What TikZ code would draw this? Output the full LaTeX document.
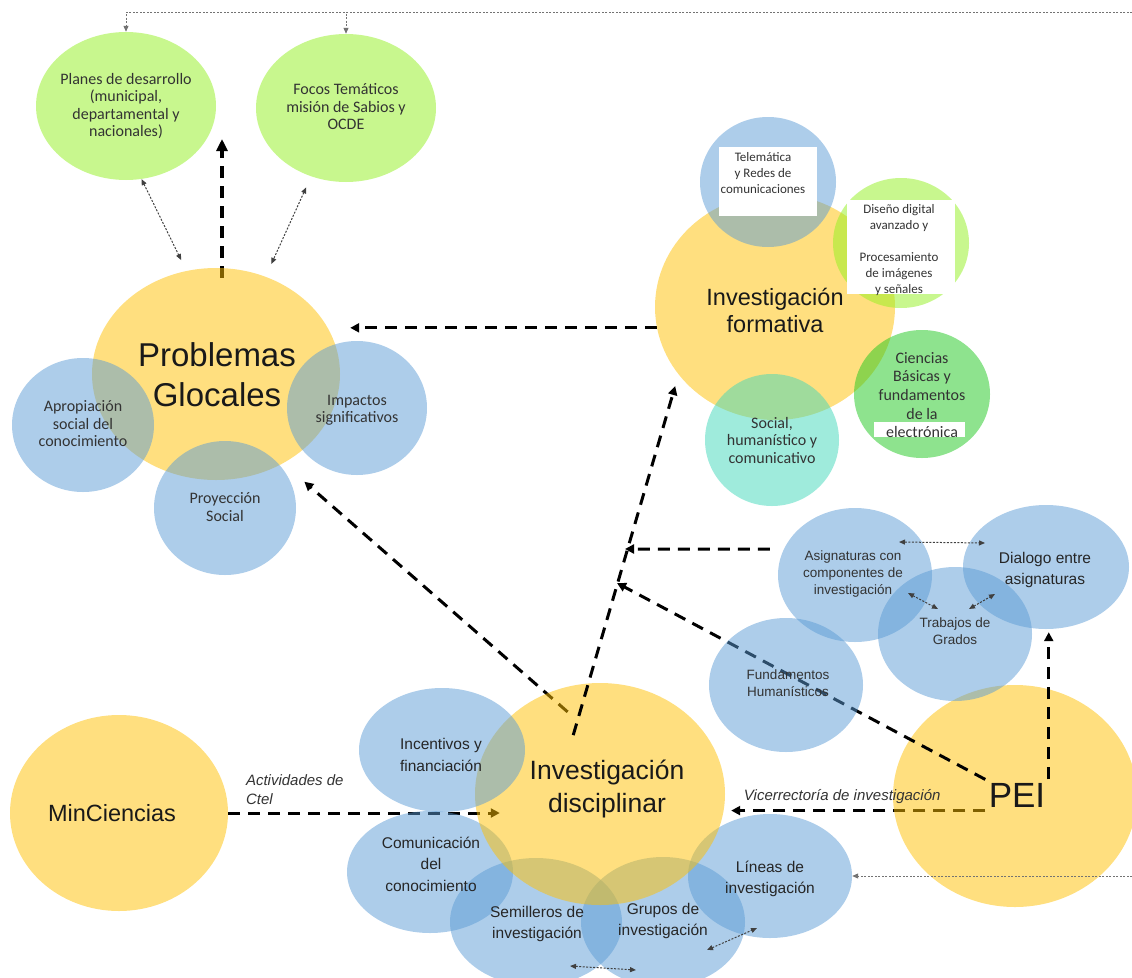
\documentclass[tikz,border=0pt]{standalone}
\usepackage{fontspec}
\setmainfont{Liberation Sans}
\newfontfamily\calibri{Carlito}
\usetikzlibrary{shapes.geometric, arrows.meta, positioning}

\definecolor{naranja}{RGB}{255,192,0}
\definecolor{azul}{RGB}{91,155,213}
\definecolor{lima}{RGB}{146,240,30}
\definecolor{verde}{RGB}{30,200,30}
\definecolor{turquesa}{RGB}{64,215,185}

\pgfdeclarelayer{fondo}
\pgfdeclarelayer{abajo}
\pgfsetlayers{fondo,abajo,main}

\begin{document}
\begin{tikzpicture}[x=1pt, y=-1pt,
			circulo/.style 2 args={ellipse, minimum width=#1, minimum height=#2, inner sep=0pt, draw=none, fill opacity=0.5},
			naranjo/.style={fill=naranja},
			celeste/.style={fill=azul},
			limon/.style={fill=lima},
			pasto/.style={fill=verde},
			agua/.style={fill=turquesa},
			caja/.style={rectangle, fill=white, inner sep=0pt},
			titulo/.style={align=center, text=black!90, font=\fontsize{33}{40}\selectfont},
			subtitulo/.style={align=center, text=black!90, font=\fontsize{23.5}{27}\selectfont},
			cal/.style={align=center, text=black!80, font=\calibri\fontsize{16}{17.5}\selectfont},
			calp/.style={align=center, text=black!80, font=\calibri\fontsize{13}{16}\selectfont},
			ari/.style={align=center, text=black!85, font=\fontsize{15.5}{21.5}\selectfont},
			arip/.style={align=center, text=black!80, font=\fontsize{13.5}{17}\selectfont},
			etiqueta/.style={align=left, text=black!80, font=\itshape\fontsize{15}{19}\selectfont},
			flecha/.style={line width=3pt, dash pattern=on 12pt off 8pt, -{Triangle[length=9pt,width=9pt]}},
			flechaG/.style={line width=3.5pt, dash pattern=on 12pt off 8pt, -{Triangle[length=12pt,width=11pt]}},
			punto/.style={black!55, line width=1pt, dash pattern=on 2pt off 1.5pt, -{Triangle[length=6pt,width=5pt]}},
			dbl/.style={black!75, line width=1pt, dash pattern=on 2pt off 1.5pt, {Triangle[length=6pt,width=5pt]}-{Triangle[length=6pt,width=5pt]}}
		]
		\useasboundingbox (0,0) rectangle (1132,977);

		% --- CIRCULOS DE ABAJO (debajo de disciplinar) ---
		\begin{pgfonlayer}{abajo}
			\node (comun) [celeste, circulo={166pt}{122pt}] at (430,872) {};
			\node (semill) [celeste, circulo={172pt}{128pt}] at (536,922) {};
			\node (grupos) [celeste, circulo={164pt}{130pt}] at (663,922) {};
			\node (lineas) [celeste, circulo={164pt}{124pt}] at (770,876) {};
			\node (disciplinar) [naranjo, circulo={250pt}{222pt}] at (600,794) {};
			\node (pei) [naranjo, circulo={244pt}{222pt}] at (1015,796) {};
		\end{pgfonlayer}

		% --- CIRCULOS PRINCIPALES ---
		\node (problemas) [naranjo, circulo={248pt}{212pt}] at (216,374) {};
		\node (formativa) [naranjo, circulo={240pt}{226pt}] at (775,307) {};
		\node (mincs) [naranjo, circulo={218pt}{196pt}] at (119,813) {};

		% --- REFERENTES EXTERNOS ---
		\node (planes) [limon, circulo={180pt}{148pt}] at (126,106) {};
		\node (focos) [limon, circulo={180pt}{148pt}] at (346,108) {};

		% --- PROBLEMAS GLOCALES ---
		\node (aprop) [celeste, circulo={142pt}{134pt}] at (83,425) {};
		\node (impactos) [celeste, circulo={140pt}{134pt}] at (357,408) {};
		\node (proy) [celeste, circulo={142pt}{134pt}] at (225,508) {};

		% --- INVESTIGACION FORMATIVA ---
		\node (tele) [celeste, circulo={136pt}{130pt}] at (768,182) {};
		\node (diseno) [limon, circulo={136pt}{130pt}] at (901,243) {};
		\node (ciencias) [pasto, circulo={136pt}{128pt}] at (922,394) {};
		\node (social) [agua, circulo={134pt}{132pt}] at (772,440) {};

		% --- ASIGNATURAS ---
		\node (asignaturas) [celeste, circulo={154pt}{134pt}] at (855,575) {};
		\node (dialogo) [celeste, circulo={166pt}{124pt}] at (1046,567) {};
		\node (trabajos) [celeste, circulo={154pt}{134pt}] at (955,634) {};
		\node (fund) [celeste, circulo={154pt}{134pt}] at (786,685) {};

		% --- INVESTIGACION DISCIPLINAR ---
		\node (incent) [celeste, circulo={166pt}{124pt}] at (442,750) {};

		% cajas blancas
		\node (tele_caja) [caja, minimum width=98pt, minimum height=69pt] at (768,181.5) {};
		\node (diseno_caja) [caja, minimum width=108pt, minimum height=94pt] at (901,247) {};
		\node (elec_caja) [caja, minimum width=91pt, minimum height=15pt] at (919.5,429.5) {};

		% --- TEXTOS ---
		\node (planes_t) [cal] at (126,106) {Planes de desarrollo\\(municipal,\\departamental y\\nacionales)};
		\node (focos_t) [cal] at (346,107) {Focos Temáticos\\misión de Sabios y\\OCDE};
		\node (problemas_t) [titulo] at (217,375) {Problemas\\Glocales};
		\node (aprop_t) [cal] at (83,424) {Apropiación\\social del\\conocimiento};
		\node (impactos_t) [cal] at (357,410) {Impactos\\significativos};
		\node (proy_t) [cal] at (225,507) {Proyección\\Social};
		\node (formativa_t) [subtitulo] at (775,310) {Investigación\\formativa};
		\node (tele_t) [calp] at (763,173) {Telemática\\y Redes de\\comunicaciones};
		\node (diseno_t) [calp] at (899,250) {Diseño digital\\avanzado y\\[16pt]Procesamiento\\de imágenes\\y señales};
		\node (ciencias_t) [cal, font=\calibri\fontsize{16}{18.7}\selectfont] at (922,395) {Ciencias\\Básicas y\\fundamentos\\de la\\electrónica};
		\node (social_t) [cal] at (772,440) {Social,\\humanístico y\\comunicativo};
		\node (asig_t) [arip] at (853,574) {Asignaturas con\\componentes de\\investigación};
		\node (dialogo_t) [ari] at (1045,570) {Dialogo entre\\asignaturas};
		\node (trabajos_t) [arip] at (955,631) {Trabajos de\\Grados};
		\node (fund_t) [arip] at (788,683) {Fundamentos\\Humanísticos};
		\node (disciplinar_t) [titulo, font=\fontsize{26.5}{33}\selectfont] at (607,789) {Investigación\\disciplinar};
		\node (incent_t) [ari] at (441,755) {Incentivos y\\financiación};
		\node (comun_t) [ari] at (431,864) {Comunicación\\del\\conocimiento};
		\node (semill_t) [ari] at (537,924) {Semilleros de\\investigación};
		\node (grupos_t) [ari] at (663,921) {Grupos de\\investigación};
		\node (lineas_t) [ari] at (770,879) {Líneas de\\investigación};
		\node (mincs_t) [subtitulo] at (112,813) {MinCiencias};
		\node (pei_t) [text=black!90, font=\fontsize{35}{40}\selectfont] at (1017,795) {PEI};

		% puntos libres
		\coordinate (cruce) at (222,139);
		\coordinate (nudoA) at (625,549);
		\coordinate (nudoB) at (617,583);
		\coordinate (topder) at (1132,12);
		\coordinate (bajoder) at (1132,876);

		% --- FLECHAS DISCONTINUAS (debajo de todo) ---
		\begin{pgfonlayer}{fondo}
			\draw [flecha, shorten >=10pt] (formativa.190) -- (formativa.190 -| problemas.east);
			\draw [flecha, shorten <=-28pt, shorten >=28pt] (disciplinar.118) -- (problemas.-53);
			\draw [flecha, shorten <=14pt] (asignaturas.160) -- (nudoA);
			\draw [flecha, shorten >=6pt] (pei_t.south west) -- (pei_t.south west -| disciplinar.east);
			\draw [flecha, shorten >=-25pt] (mincs.east) -- (mincs.east -| disciplinar.west);
			\draw [flechaG, shorten <=-10pt] (problemas.north -| cruce) -- (cruce);
		\end{pgfonlayer}

		% encima de disciplinar y PEI
		\begin{pgfonlayer}{abajo}
			\draw [flecha, shorten <=-54pt, shorten >=12pt] (disciplinar.96) -- (formativa.215);
			\draw [flecha] (pei_t.north west) -- (nudoB);
			\draw [flecha, shorten >=3pt] (pei_t.north east) -- (pei_t.north east |- dialogo.south);
		\end{pgfonlayer}

		% etiquetas de las flechas
		\path (pei_t.south west) -- node[etiqueta, above=3pt, pos=0.55] {Vicerrectoría de investigación} (pei_t.south west -| disciplinar.east);
		\path (mincs.east) -- node[etiqueta, above=5pt, pos=0.27] {Actividades de\\Ctel} (mincs.east -| disciplinar.west);

		% --- FLECHAS PUNTEADAS ---
		\draw [punto] (topder) -| (planes.north);
		\draw [punto] (topder) -| (focos.north);
		\draw [punto] (bajoder) -- (bajoder -| lineas.east);
		\draw [dbl, shorten >=12pt] (planes.-78) -- (problemas.106);
		\draw [dbl, shorten <=12pt, shorten >=14pt] (focos.243) -- (problemas.63);
		\draw [dbl] ([shift={(44,-33)}]asignaturas.center) -- ([shift={(-61,-24)}]dialogo.center);
		\draw [dbl] ([shift={(53,18)}]asignaturas.center) -- ([shift={(-17,-25)}]trabajos.center);
		\draw [dbl] ([shift={(14,-25)}]trabajos.center) -- ([shift={(-51,27)}]dialogo.center);
		\draw [dbl] ([shift={(34,44)}]semill.center) -- ([shift={(-27,48)}]grupos.center);
		\draw [dbl] ([shift={(44,28)}]grupos.center) -- ([shift={(-13,52)}]lineas.center);
	\end{tikzpicture}
\end{document}
